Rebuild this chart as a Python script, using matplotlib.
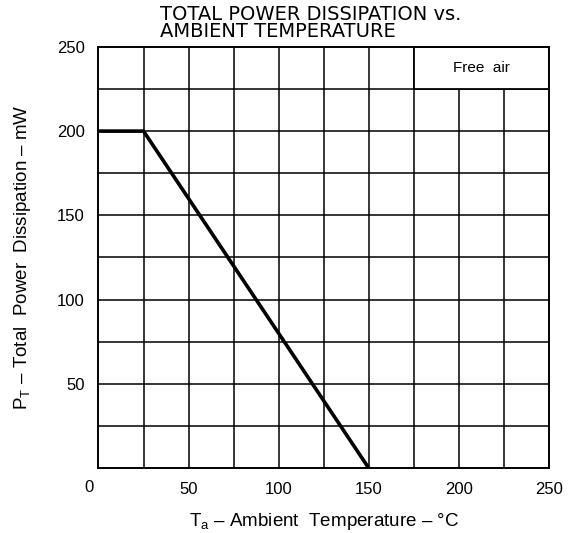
import matplotlib
matplotlib.use('Agg')
import matplotlib.pyplot as plt
import matplotlib.patches as mpatches

# derating curve
temp_c = [0, 25, 150]
power_mw = [200, 200, 0]

x_ticks = [50, 100, 150, 200, 250]
y_ticks = [50, 100, 150, 200, 250]
grid_step = 25

plt.rcParams['font.family'] = ['Liberation Sans', 'DejaVu Sans']
plt.rcParams['mathtext.fontset'] = 'custom'
plt.rcParams['mathtext.rm'] = 'Liberation Sans'

fig = plt.figure(figsize=(5.71, 5.33), dpi=100)
ax = fig.add_axes([0.1725, 0.122, 0.7885, 0.79])

# grid every 25 units
for v in range(grid_step, 250, grid_step):
    ax.axvline(v, color='black', lw=1.1, zorder=1)
    ax.axhline(v, color='black', lw=1.1, zorder=1)

# "Free air" box in the top-right corner hides the grid there
box = mpatches.Rectangle((175, 225), 75, 25, fc='white', ec='black', lw=1.3, zorder=2)
ax.add_patch(box)
ax.text(212.5, 237.5, 'Free  air', ha='center', va='center', fontsize=11, zorder=3)

ax.plot(temp_c, power_mw, color='black', lw=2.6, zorder=4, solid_capstyle='butt')

ax.set_xlim(0, 250)
ax.set_ylim(0, 250)
ax.set_xticks(x_ticks)
ax.set_yticks(y_ticks)
ax.tick_params(length=0, labelsize=12, pad=10)
ax.text(-5, -7, '0', ha='center', va='top', fontsize=12, transform=ax.transData)
for s in ax.spines.values():
    s.set_linewidth(1.4)

ax.set_xlabel(r'T$_\mathregular{a}$ – Ambient  Temperature – °C', fontsize=13.5, labelpad=10)
ax.set_ylabel(r'P$_\mathregular{T}$ – Total  Power  Dissipation – mW', fontsize=13.5, labelpad=8)
ax.yaxis.set_label_coords(-0.145, 0.5)

fig.text(0.28, 0.957, 'TOTAL POWER DISSIPATION vs.\nAMBIENT TEMPERATURE',
         ha='left', va='center', fontsize=14, linespacing=0.9,
         family=['DejaVu Sans'])

fig.savefig('out.png', dpi=100)
